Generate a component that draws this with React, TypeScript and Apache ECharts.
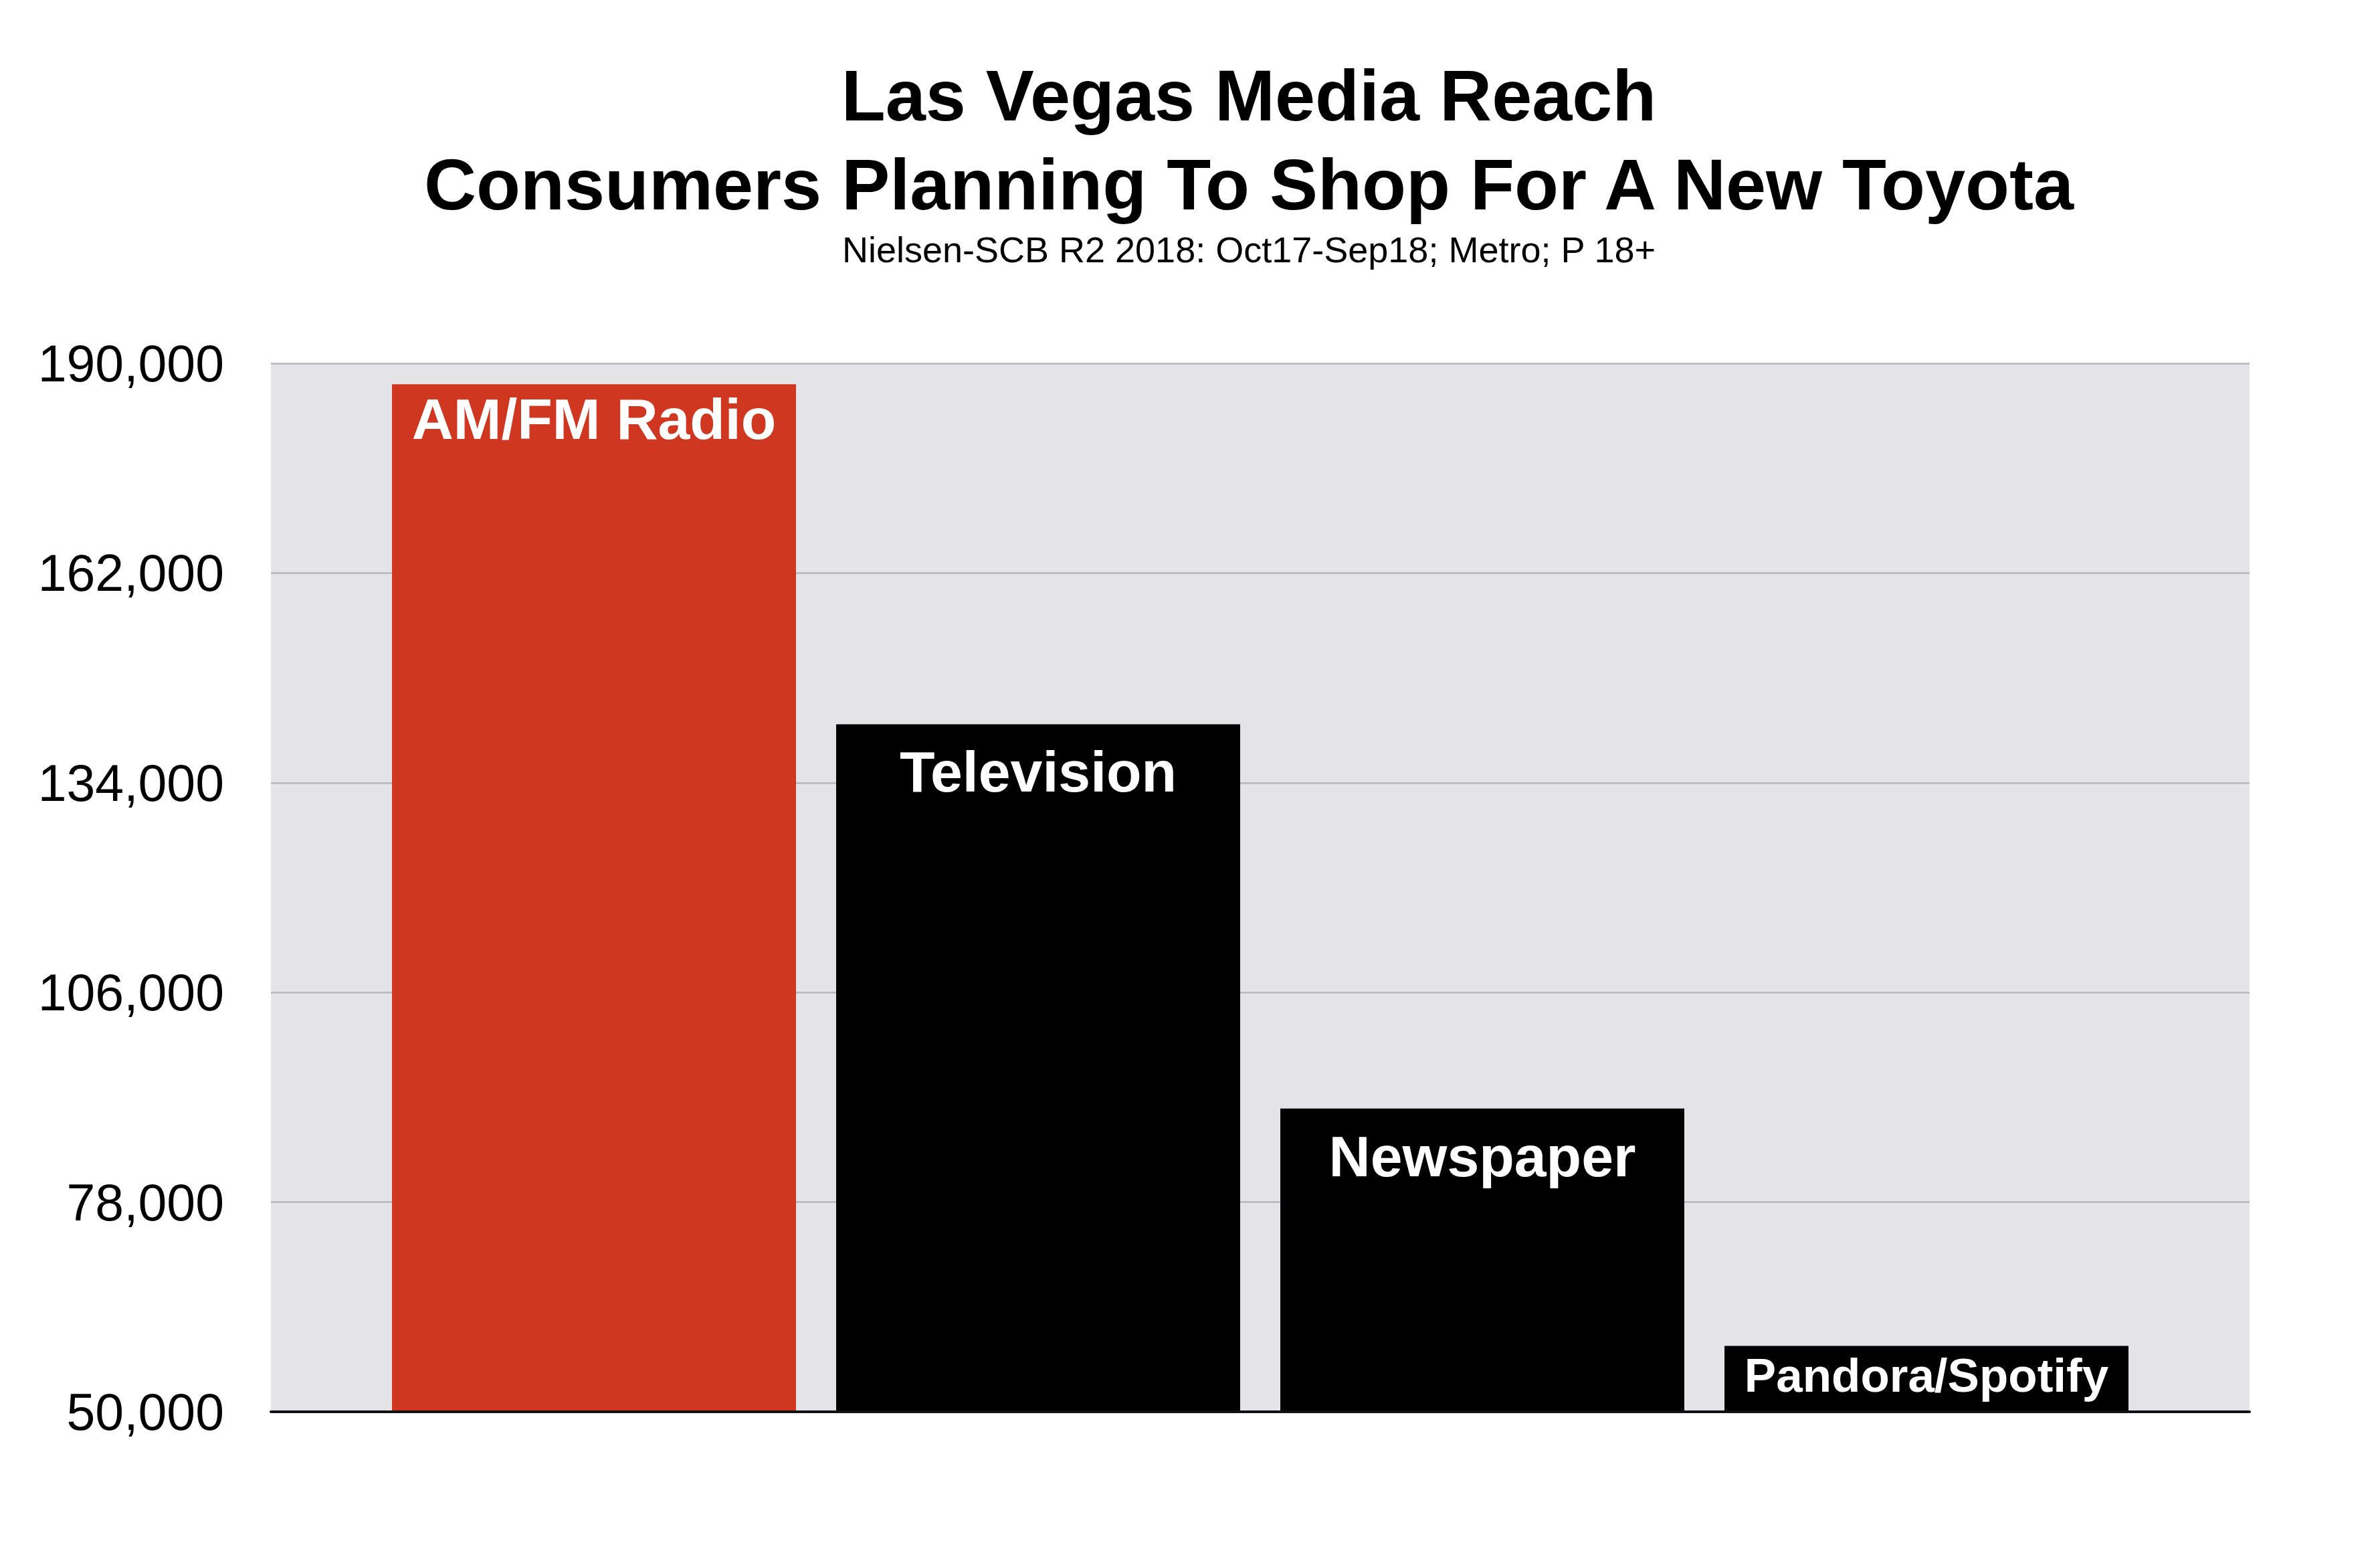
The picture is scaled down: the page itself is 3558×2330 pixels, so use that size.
import React, { useEffect, useRef } from "react";
import * as echarts from "echarts";

const TITLE_LINES = ["Las Vegas Media Reach", "Consumers Planning To Shop For A New Toyota"];
const SUBTITLE = "Nielsen-SCB R2 2018: Oct17-Sep18; Metro; P 18+";
const CATEGORIES = ["AM/FM Radio", "Television", "Newspaper", "Pandora/Spotify"];
const VALUES = [187200, 141800, 90500, 58800];
const BAR_COLORS = ["#cf3720", "#000000", "#000000", "#000000"];
const LABEL_SIZES = [86, 86, 86, 71];
const LABEL_DISTANCES = [9, 28, 28, 8];
const Y_MIN = 50000;
const Y_MAX = 190000;
const Y_STEP = 28000;

const FONT = "'Liberation Sans', Arial, Helvetica, sans-serif";

export default function App() {
  const ref = useRef<HTMLDivElement>(null);
  useEffect(() => {
    if (!ref.current) return;
    const chart = echarts.init(ref.current, null, { renderer: "svg" });
    chart.setOption({
      animation: false,
      backgroundColor: "#ffffff",
      title: [
        {
          text: TITLE_LINES[0],
          left: 1867,
          top: 88,
          textAlign: "center",
          padding: 0,
          textStyle: { fontSize: 108, fontWeight: "bold", color: "#000", fontFamily: FONT },
        },
        {
          text: TITLE_LINES[1],
          left: 1867,
          top: 221,
          textAlign: "center",
          padding: 0,
          textStyle: { fontSize: 108, fontWeight: "bold", color: "#000", fontFamily: FONT },
        },
        {
          text: SUBTITLE,
          left: 1867,
          top: 346,
          textAlign: "center",
          padding: 0,
          textStyle: { fontSize: 54, fontWeight: "normal", color: "#000", fontFamily: FONT },
        },
      ],
      grid: [
        {
          left: 405,
          right: 195,
          top: 543,
          bottom: 220,
          show: true,
          backgroundColor: "#e5e5e8",
          borderWidth: 0,
        },
        {
          left: 556,
          right: 346,
          top: 543,
          bottom: 220,
        },
      ],
      xAxis: [
        {
          type: "category",
          gridIndex: 0,
          data: [""],
          axisLine: { show: true, lineStyle: { color: "#111111", width: 4 } },
          axisTick: { show: false },
          axisLabel: { show: false },
          splitLine: { show: false },
          z: 10,
        },
        {
          type: "category",
          gridIndex: 1,
          data: CATEGORIES,
          axisLine: { show: false },
          axisTick: { show: false },
          axisLabel: { show: false },
          splitLine: { show: false },
        },
      ],
      yAxis: [
        {
          type: "value",
          gridIndex: 0,
          min: Y_MIN,
          max: Y_MAX,
          interval: Y_STEP,
          axisLine: { show: false },
          axisTick: { show: false },
          axisLabel: {
            fontSize: 77,
            color: "#000",
            fontFamily: FONT,
            margin: 70,
            formatter: (v: number) => v.toLocaleString("en-US"),
          },
          splitLine: { show: true, lineStyle: { color: "#bdbdbd", width: 3 } },
        },
        {
          type: "value",
          gridIndex: 1,
          min: Y_MIN,
          max: Y_MAX,
          interval: Y_STEP,
          show: false,
          splitLine: { show: false },
        },
      ],
      series: [
        {
          type: "bar",
          xAxisIndex: 1,
          yAxisIndex: 1,
          barWidth: 604,
          z: 3,
          data: VALUES.map((v, i) => ({
            value: v,
            name: CATEGORIES[i],
            itemStyle: { color: BAR_COLORS[i] },
            label: {
              show: true,
              position: "insideTop",
              distance: LABEL_DISTANCES[i],
              formatter: "{b}",
              color: "#ffffff",
              fontWeight: "bold",
              fontSize: LABEL_SIZES[i],
              fontFamily: FONT,
            },
          })),
        },
      ],
    });
    return () => chart.dispose();
  }, []);
  return (
    <div
      ref={ref}
      style={{ position: "fixed", left: 0, top: 0, width: 3558, height: 2330 }}
    />
  );
}
